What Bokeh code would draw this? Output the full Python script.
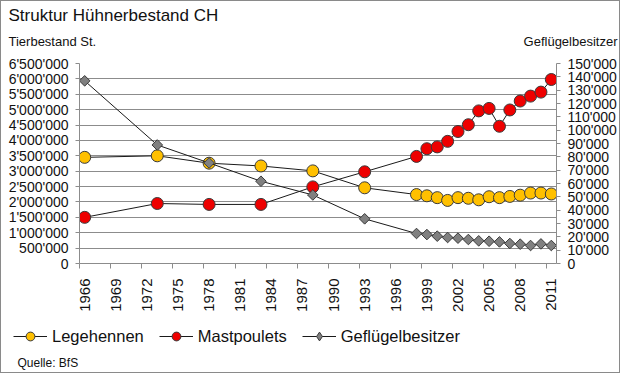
import math
from bokeh.plotting import figure
from bokeh.layouts import column
from bokeh.models import (Range1d, LinearAxis, FixedTicker, Legend, LegendItem, Label)
from bokeh.embed import file_html
from bokeh.resources import INLINE

# ---------------- data ----------------
years = [1966, 1973, 1978, 1983, 1988, 1993, 1998, 1999, 2000, 2001, 2002,
         2003, 2004, 2005, 2006, 2007, 2008, 2009, 2010, 2011]
legehennen = [3450000, 3500000, 3260000, 3170000, 3010000, 2460000, 2240000,
              2200000, 2140000, 2050000, 2140000, 2120000, 2070000, 2170000,
              2140000, 2180000, 2220000, 2290000, 2290000, 2260000]
mastpoulets = [1500000, 1950000, 1920000, 1920000, 2490000, 2980000, 3480000,
               3730000, 3790000, 3970000, 4290000, 4510000, 4960000, 5040000,
               4460000, 4990000, 5280000, 5440000, 5570000, 5980000]
gefluegelbesitzer = [137000, 88900, 75400, 61700, 51400, 33500, 22500, 21700,
                     20500, 19500, 19000, 18000, 17000, 16700, 16200, 15000,
                     14500, 13500, 14700, 13500]
x_tick_years = list(range(1966, 2012, 3))
left_ticks = list(range(0, 6500001, 500000))
right_ticks = list(range(0, 150001, 10000))
series_names = ["Legehennen", "Mastpoulets", "Geflügelbesitzer"]

FONT = "Liberation Sans"
GRID = "#8c8c8c"
TXT = "#111111"
YELLOW = "#FFC000"
RED = "#EE0000"
GREY = "#808080"
EDGE = "#3a3a3a"
LINE = "#1a1a1a"


def fmt(v):
    return f"{v:,}".replace(",", "'")


W = 618
H_TOP, H_MAIN, H_BOT = 53, 260, 58


def blank(h):
    f = figure(width=W, height=h, output_backend="svg", toolbar_location=None,
               x_range=Range1d(0, W), y_range=Range1d(0, h),
               x_axis_type=None, y_axis_type=None, frame_align=False,
               min_border_left=0, min_border_right=0, min_border_top=0,
               min_border_bottom=0)
    f.outline_line_color = None
    f.grid.visible = False
    return f


# ---------------- header ----------------
top = blank(H_TOP)
top.add_layout(Label(x=7, y=H_TOP - 14, text="Struktur Hühnerbestand CH",
                     text_font=FONT, text_font_size="17px", text_color=TXT,
                     text_baseline="alphabetic", text_align="left"))
top.add_layout(Label(x=7, y=H_TOP - 40, text="Tierbestand St.",
                     text_font=FONT, text_font_size="13px", text_color=TXT,
                     text_baseline="alphabetic", text_align="left"))
top.add_layout(Label(x=616, y=H_TOP - 40, text="Geflügelbesitzer",
                     text_font=FONT, text_font_size="13px", text_color=TXT,
                     text_baseline="alphabetic", text_align="right"))

# ---------------- main chart ----------------
p = figure(width=W, height=H_MAIN, output_backend="svg", toolbar_location=None,
           x_range=Range1d(1965.5, 2011.5), y_range=Range1d(0, 6500000),
           frame_align=False,
           min_border_left=78, min_border_right=62, min_border_top=9,
           min_border_bottom=50)
p.extra_y_ranges = {"right": Range1d(0, 150000)}
p.outline_line_color = None

xa = p.xaxis[0]
xa.ticker = FixedTicker(ticks=x_tick_years, minor_ticks=[y - 0.5 for y in x_tick_years])
xa.major_tick_line_color = None
xa.major_tick_out = 0
xa.major_tick_in = 0
xa.minor_tick_out = 5
xa.minor_tick_in = 0
xa.minor_tick_line_color = GRID
xa.axis_line_color = GRID
xa.major_label_orientation = math.pi / 2
xa.major_label_standoff = 10
xa.major_label_text_font = FONT
xa.major_label_text_font_size = "15px"
xa.major_label_text_color = TXT

ya = p.yaxis[0]
ya.ticker = FixedTicker(ticks=left_ticks)
ya.major_label_overrides = {v: fmt(v) for v in left_ticks}
ya.minor_tick_line_color = None
ya.major_tick_out = 4
ya.major_tick_in = 0
ya.major_tick_line_color = GRID
ya.axis_line_color = GRID
ya.major_label_standoff = 7
ya.major_label_text_font = FONT
ya.major_label_text_font_size = "14px"
ya.major_label_text_color = TXT

ra = LinearAxis(y_range_name="right", ticker=FixedTicker(ticks=right_ticks))
ra.major_label_overrides = {v: fmt(v) for v in right_ticks}
ra.minor_tick_line_color = None
ra.major_tick_out = 4
ra.major_tick_in = 0
ra.major_tick_line_color = GRID
ra.axis_line_color = GRID
ra.major_label_standoff = 7
ra.major_label_text_font = FONT
ra.major_label_text_font_size = "14px"
ra.major_label_text_color = TXT
p.add_layout(ra, "right")

p.xgrid.grid_line_color = None
p.ygrid.ticker = FixedTicker(ticks=left_ticks)
p.ygrid.grid_line_color = GRID
p.ygrid.grid_line_width = 1

p.line(years, legehennen, line_color=LINE, line_width=1)
p.scatter(years, legehennen, marker="circle", size=12,
          fill_color=YELLOW, line_color=EDGE, line_width=1)
p.line(years, mastpoulets, line_color=LINE, line_width=1)
p.scatter(years, mastpoulets, marker="circle", size=12,
          fill_color=RED, line_color=EDGE, line_width=1)
p.line(years, gefluegelbesitzer, y_range_name="right",
       line_color=LINE, line_width=1)
p.scatter(years, gefluegelbesitzer, y_range_name="right", marker="square",
          angle=math.pi / 4, size=7.5, fill_color=GREY,
          line_color=EDGE, line_width=1)

# ---------------- footer: legend + source ----------------
bot = blank(H_BOT)
items = []
for name, col, mk in zip(series_names, [YELLOW, RED, GREY],
                         ["circle", "circle", "diamond"]):
    # legend-only renderers, placed outside the visible range
    lr = bot.line([-1000, -999], [-1000, -1000], line_color=LINE, line_width=1)
    sr = bot.scatter([-1000], [-1000], marker=mk, fill_color=col,
                     line_color=EDGE, line_width=1)
    items.append(LegendItem(label=name, renderers=[lr, sr]))
legend = Legend(items=items, orientation="horizontal", location=(12, 25),
                glyph_width=34, glyph_height=22, label_standoff=5, spacing=15,
                padding=0, margin=0, border_line_color=None,
                background_fill_alpha=0, label_text_font=FONT,
                label_text_font_size="16.5px", label_text_color=TXT)
bot.add_layout(legend, "center")
bot.add_layout(Label(x=16, y=10, text="Quelle: BfS", text_font=FONT,
                     text_font_size="12px", text_color=TXT,
                     text_baseline="alphabetic", text_align="left"))

layout = column(top, p, bot, spacing=0,
                styles={"border": "1px solid #8a8a8a"})

open("out.html", "w").write(file_html(layout, INLINE))
